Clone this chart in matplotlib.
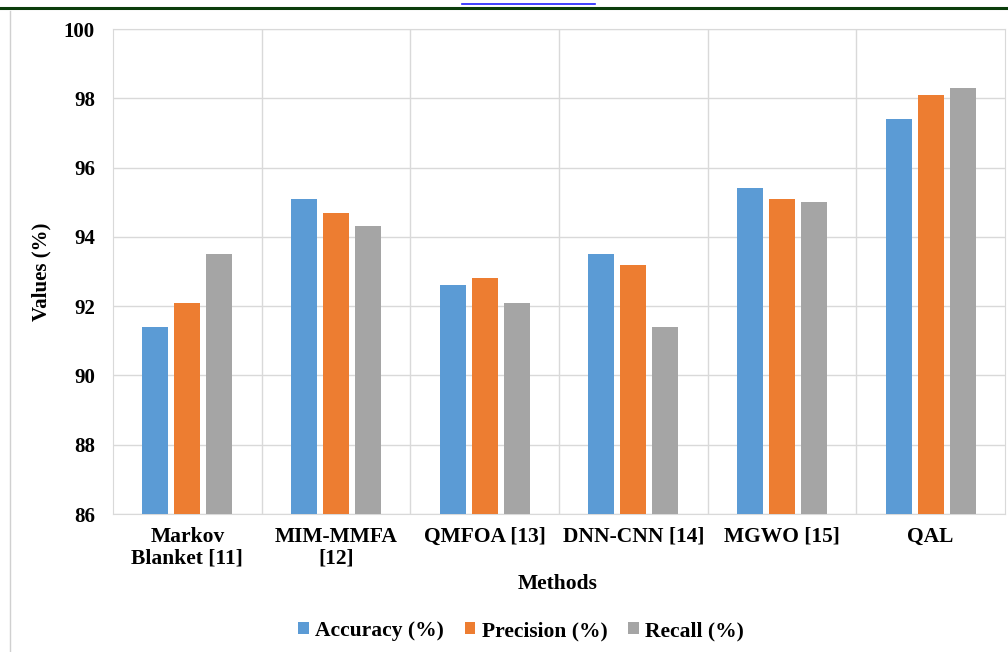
import matplotlib.pyplot as plt
import numpy as np
from matplotlib.lines import Line2D

# Données du graphique
methods = ["Markov\nBlanket [11]", "MIM-MMFA\n[12]", "QMFOA [13]", "DNN-CNN [14]", "MGWO [15]", "QAL"]
accuracy = [91.4, 95.1, 92.6, 93.5, 95.4, 97.4]
precision = [92.1, 94.7, 92.8, 93.2, 95.1, 98.1]
recall = [93.5, 94.3, 92.1, 91.4, 95.0, 98.3]
series_names = ["Accuracy (%)", "Precision (%)", "Recall (%)"]
colors = ["#5B9BD5", "#ED7D31", "#A5A5A5"]

plt.rcParams['font.family'] = ['Liberation Serif', 'DejaVu Serif']
plt.rcParams['font.weight'] = 'bold'

fig = plt.figure(figsize=(10.08, 6.52), dpi=100)
ax = fig.add_axes([113 / 1008, 1 - 514 / 652, 892 / 1008, 485 / 652])

x = np.arange(len(methods))
w = 0.175
step = 0.215
for i, (vals, name) in enumerate(zip([accuracy, precision, recall], series_names)):
    ax.bar(x + (i - 1) * step, vals, width=w, color=colors[i], label=name, zorder=3)

ax.set_xlim(-0.5, len(methods) - 0.5)
ax.set_ylim(86, 100)
ax.set_yticks(range(86, 101, 2))
ax.set_xticks(x)
ax.set_xticklabels(methods, fontsize=15.5, fontweight='bold', linespacing=1.15)
ax.tick_params(axis='y', labelsize=15, length=0, pad=13)
ax.tick_params(axis='x', length=0, pad=9)

# Grille horizontale + séparateurs de catégories
ax.grid(axis='y', color='#D9D9D9', linewidth=1, zorder=0)
for b in np.arange(0.5, len(methods) - 0.5, 1):
    ax.axvline(b, color='#D9D9D9', linewidth=1, zorder=0)
for s in ax.spines.values():
    s.set_color('#D9D9D9')

ax.set_ylabel("Values (%)", fontsize=15, fontweight='bold', labelpad=9)
fig.text(558 / 1008, 1 - 584 / 652, "Methods", ha='center', va='center', fontsize=15.5, fontweight='bold')

fig.legend(loc='center', bbox_to_anchor=(521 / 1008, 1 - 631 / 652), ncol=3, frameon=False,
           fontsize=15.5, handlelength=0.5, handleheight=0.5, handletextpad=0.3, columnspacing=0.95)

# Cadre de la page
fig.add_artist(Line2D([0, 1], [1 - 8 / 652, 1 - 8 / 652], color='#0B3D0B', linewidth=2.2))
fig.add_artist(Line2D([462 / 1008, 595 / 1008], [1 - 4 / 652, 1 - 4 / 652], color='#1F1FFF', linewidth=1.2))
fig.add_artist(Line2D([10 / 1008, 10 / 1008], [0, 1 - 11 / 652], color='#D0D0D0', linewidth=1))

plt.savefig('out.png', dpi=100)
